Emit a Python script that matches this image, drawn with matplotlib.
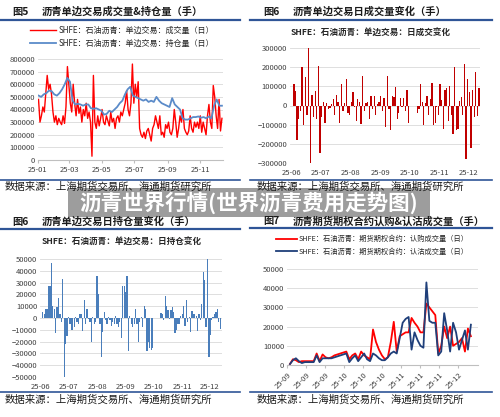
import numpy as np
import pandas as pd
import matplotlib
matplotlib.use("Agg")
import matplotlib.pyplot as plt
import matplotlib.dates as mdates
from matplotlib.patches import Rectangle

plt.rcParams['font.family'] = ['Noto Sans CJK SC', 'DejaVu Sans']

W, H = 500, 417

# ---- data ----
# fig 5: daily volume and open interest, thousands of lots
vol_5 = [480, 300, 350, 420, 380, 520, 670, 560, 600, 520, 380, 300,
         350, 280, 330, 300, 280, 350, 290, 420, 740, 600, 450,
         380, 600, 450, 350, 480, 370, 420, 300, 400, 350, 450, 330,
         380, 300, 30, 670, 300, 250, 350, 270, 330, 400, 300,
         280, 350, 310, 270, 380, 300, 330, 250, 330, 350, 300,
         380, 350, 400, 450, 550, 400, 350, 450, 760, 450, 600, 500, 620,
         250, 200, 180, 220, 170, 230, 250, 200, 150, 250, 280,
         350, 300, 250, 350, 200, 220, 180, 280, 250, 300, 220,
         200, 250, 400, 300, 180, 250, 350, 300, 400, 250,
         220, 200, 230, 350, 250, 220, 300, 260,
         300, 250, 350, 220, 300, 250, 200, 350, 440, 300, 250,
         590, 500, 350, 250, 480, 230, 330]
oi_5 = [510, 500, 520, 530, 550, 545,
        520, 510, 530, 560, 600, 650, 620,
        470, 440, 445, 440, 430, 440,
        440, 410, 405, 410, 400,
        390, 360, 365, 390, 380, 400,
        420, 450, 470, 520, 560, 580,
        510, 500, 490, 480, 470, 480, 460,
        470, 460, 500, 470, 450, 440,
        430, 420, 490, 440, 420, 400,
        330, 320, 320, 330, 340,
        340, 345, 335, 340, 330, 345,
        330, 430, 480, 430, 430]

# fig 6: daily volume change, thousands (before / after National Day holiday)
dvol_pre = [110, 75, -180, -70, -30, 200, -100, 150, -50, 300,
            -300, 55, -60, 75, -70, 205, -250, -60, 20, -90,
            15, -20, -15, 10, 35, -50, 55, 20, -90, 110,
            -30, 15, 140, -40, -50, 20, 70, -10, -80, 35,
            20, -95, 155, -30, 15, 20, -70, 50, -20, 50,
            -50, 10, 20, 50, -30, 40, -110, 155, -20, -130,
            50, 45, 95, -70, -40, 40, -10, 40, -30, 80, -90]
dvol_post = [-40, -20, 110, 20, -100, 15, 50, -50, 35, 120,
             -100, -90, -10, -50, 110, 30, -120, 80, 90, -80,
             100, -50, -150, 200, -130, -120, 25, 45, -50, 215,
             -280, 140, 70, -220, 80, -60, 175, -55, 90]

# fig 6 (second): daily open interest change, thousands
doi_pre = [5, 3, 8, 8, 27, 27, 47, 10, 8, -13, 9, 17, 3, -3, 33, -50, -22, -15,
           1, -5, -10, -10, -8, 1, -3, -5, 3, 3, -11, 15, -5, 8, -1, -3, -20, 1,
           -5, -3, 36, 20, -5, -33, -12, 5, -2, -5, 1, -2, -7, -3, -5, 2, -5, -8,
           -3, -17, 27, 27, 22, 36, -28, 2, -5, -8, -5, 8, -5, -20, -3, 1, -8,
           10, 8, -28, -20, -25, -27, -25]
doi_post = [4, 3, -2, 19, 10, 7, -1, 7, 9, 5, -13, -10, -5, -5, 2, 3, 10, -7,
            15, -3, 1, -12, 6, 3, 3, 2, -11, 3, -2, 12, 39, 32, -8, 50, -33,
            -14, -2, 1, 3, 5, 8, -3, -9]

# fig 7: option call / put volume, thousands
calls_7 = [0.5, 3, 2.5, 1.5, 2, 2, 2, 2, 2, 6, 2, 5.5, 4, 3.5, 4, 5, 5.5, 6, 6.5, 7,
           3, 5, 6, 3, 7, 5, 4, 3, 18.5, 12, 8, 5, 3, 4, 12, 22.5, 7, 15, 16, 17,
           17, 24.5, 22, 20, 17, 17, 32, 30, 28, 26, 6, 10, 20, 14, 20, 10, 11, 12,
           14, 7, 19, 15]
puts_7 = [0.5, 2.5, 3.5, 2, 1, 1.5, 1.5, 1.5, 1.5, 5, 1.5, 3.5, 3.5, 3.5, 3.5, 4,
          4.5, 5, 5.5, 6, 1.5, 3.5, 5, 2, 4, 6, 3, 2, 6, 5, 3.5, 2.5, 2.5, 4, 6, 7,
          6, 14, 22, 24, 25, 8, 17, 13, 10, 9, 43, 23, 22, 22, 5, 7, 27, 18, 7, 22,
          17, 8, 13, 18, 8, 21]
ticklabels_7 = ['25-09', '25-09', '25-09', '25-10', '25-10', '25-10',
                '25-11', '25-11', '25-11', '25-12']

dates_5v = pd.date_range('2025-01-02', '2025-12-12', periods=len(vol_5))
dates_5o = pd.date_range('2025-01-02', '2025-12-12', periods=len(oi_5))

# ---- layout helpers ----
def rect(x0, y0, x1, y1):
    return [x0 / W, 1 - y1 / H, (x1 - x0) / W, (y1 - y0) / H]

def ftext(x, y, s, **kw):
    fig.text(x / W, 1 - y / H, s, **kw)

def hline(x0, x1, y, lw=1.6, color='#2f5597'):
    fig.add_artist(plt.Line2D([x0 / W, x1 / W], [1 - y / H, 1 - y / H],
                              color=color, lw=lw, transform=fig.transFigure))

def style(ax):
    for s in ax.spines.values():
        s.set_visible(False)
    ax.grid(axis='y', color='#d9d9d9', lw=0.6)
    ax.set_axisbelow(True)
    ax.tick_params(labelsize=5.5, colors='#404040', length=0, pad=2)

fig = plt.figure(figsize=(W / 100, H / 100), dpi=100)
fig.patch.set_facecolor('white')

head_kw = dict(fontsize=7.4, color='#1a1a1a', va='center', fontweight='bold')
src = '数据来源：上海期货交易所、海通期货研究所'
src_kw = dict(fontsize=7.5, color='#1a1a1a', va='center')

# ---- panel: fig 5 ----
ftext(12, 12, '图5', **head_kw)
ftext(42, 12, '沥青单边交易成交量&持仓量（手）', **head_kw)
hline(0, 240, 19.5)
ax1 = fig.add_axes(rect(38, 59, 223, 160))
style(ax1)
ax1.plot(dates_5v, np.array(vol_5) * 1000, color='#ff0000', lw=1.0)
ax1.plot(dates_5o, np.array(oi_5) * 1000, color='#5b8bc9', lw=1.3)
ax1.set_ylim(0, 800000)
ax1.set_yticks(np.arange(0, 800001, 100000))
ax1.set_xlim(pd.Timestamp('2025-01-01'), pd.Timestamp('2025-12-14'))
ax1.xaxis.set_major_locator(mdates.MonthLocator(bymonth=[1, 3, 5, 7, 9, 11]))
ax1.xaxis.set_major_formatter(mdates.DateFormatter('%y-%m'))
ax1.spines['bottom'].set_visible(True)
ax1.spines['bottom'].set_color('#bfbfbf')
ax1.tick_params(axis='x', length=2, color='#bfbfbf')
ax1.legend(['SHFE：石油沥青：单边交易：成交量（日）', 'SHFE：石油沥青：单边交易：持仓量（日）'],
           loc='lower left', bbox_to_anchor=(rect(26, 25, 230, 52)[0], rect(26, 25, 230, 52)[1]),
           bbox_transform=fig.transFigure, frameon=False, fontsize=5.8,
           handlelength=3.2, labelspacing=0.55, borderpad=0, handletextpad=0.3,
           labelcolor='#262626')
hline(0, 240, 180, lw=1.2)
ftext(5, 187, src, **src_kw)

# ---- panel: fig 6 volume change ----
ftext(263, 12, '图6', **head_kw)
ftext(293, 12, '沥青单边交易日成交量变化（手）', **head_kw)
hline(250, 492, 19.5)
ftext(371, 33, 'SHFE：石油沥青：单边交易：日成交变化', fontsize=6.2, ha='center',
      va='center', color='#262626', fontweight='bold')
ax2 = fig.add_axes(rect(290, 48, 480, 163))
style(ax2)
d_pre = pd.date_range('2025-06-03', '2025-09-30', periods=len(dvol_pre))
d_post = pd.date_range('2025-10-09', '2025-12-12', periods=len(dvol_post))
ax2.bar(d_pre, np.array(dvol_pre) * 1000, width=1.35, color='#c00000')
ax2.bar(d_post, np.array(dvol_post) * 1000, width=1.35, color='#c00000')
ax2.set_ylim(-300000, 300000)
ax2.set_yticks(np.arange(-300000, 300001, 100000))
ax2.set_xlim(pd.Timestamp('2025-05-30'), pd.Timestamp('2025-12-13'))
ax2.xaxis.set_major_locator(mdates.MonthLocator())
ax2.xaxis.set_major_formatter(mdates.DateFormatter('%y-%m'))
ax2.tick_params(axis='x', pad=4)
hline(250, 492, 180, lw=1.2)
ftext(257, 187, src, **src_kw)

# ---- panel: fig 6 open interest change ----
ftext(12, 222, '图6', **head_kw)
ftext(42, 222, '沥青单边交易日持仓量变化（手）', **head_kw)
hline(0, 240, 228.5)
ftext(122, 242, 'SHFE：石油沥青：单边交易：日持仓变化', fontsize=6.2, ha='center',
      va='center', color='#262626', fontweight='bold')
ax3 = fig.add_axes(rect(40, 259, 222, 377))
style(ax3)
o_pre = pd.date_range('2025-06-03', '2025-09-30', periods=len(doi_pre))
o_post = pd.date_range('2025-10-09', '2025-12-12', periods=len(doi_post))
ax3.bar(o_pre, np.array(doi_pre) * 1000, width=1.35, color='#4a7ebb')
ax3.bar(o_post, np.array(doi_post) * 1000, width=1.35, color='#4a7ebb')
ax3.set_ylim(-50000, 50000)
ax3.set_yticks(np.arange(-50000, 50001, 10000))
ax3.set_xlim(pd.Timestamp('2025-05-31'), pd.Timestamp('2025-12-14'))
ax3.xaxis.set_major_locator(mdates.MonthLocator())
ax3.xaxis.set_major_formatter(mdates.DateFormatter('%y-%m'))
ax3.tick_params(axis='x', pad=4)
hline(0, 240, 392, lw=1.2)
ftext(5, 400, src, **src_kw)

# ---- panel: fig 7 options ----
ftext(263, 221, '图7', **head_kw)
ftext(293, 221, '沥青期货期权合约认购&认沽成交量（手）', **head_kw)
hline(250, 492, 227.5)
ax4 = fig.add_axes(rect(287, 269, 478, 365))
style(ax4)
xi = np.arange(len(calls_7))
ax4.plot(xi, np.array(calls_7) * 1000, color='#ff0000', lw=1.3)
ax4.plot(xi, np.array(puts_7) * 1000, color='#1f3f7a', lw=1.3)
ax4.set_ylim(0, 50000)
ax4.set_yticks(np.arange(0, 50001, 10000))
ax4.set_xlim(-1, 63.4)
ax4.set_xticks(np.linspace(-1, 56.7, len(ticklabels_7)))
ax4.set_xticklabels(ticklabels_7, rotation=45, ha='right', rotation_mode='anchor')
ax4.spines['bottom'].set_visible(True)
ax4.spines['bottom'].set_color('#bfbfbf')
ax4.tick_params(axis='x', length=2, color='#bfbfbf')
ax4.legend(['SHFE：石油沥青：期货期权合约：认购成交量（日）', 'SHFE：石油沥青：期货期权合约：认沽成交量（日）'],
           loc='lower left', bbox_to_anchor=(rect(272, 236, 480, 259)[0], rect(272, 236, 480, 259)[1]),
           bbox_transform=fig.transFigure, frameon=False, fontsize=5.2,
           handlelength=3.0, labelspacing=0.6, borderpad=0, handletextpad=0.2,
           labelcolor='#262626')
hline(250, 492, 392, lw=1.2)
ftext(257, 400, src, **src_kw)

# ---- overlay banner ----
fig.add_artist(Rectangle(rect(68, 188, 430, 217)[:2], (430 - 68) / W, (217 - 188) / H,
                         transform=fig.transFigure, facecolor='#8c8c8c', alpha=0.85,
                         edgecolor='none'))
ftext(249, 203, '沥青世界行情(世界沥青费用走势图)', fontsize=15.5, fontweight='bold',
      color='white', ha='center', va='center')

fig.savefig('out.png', dpi=100)
